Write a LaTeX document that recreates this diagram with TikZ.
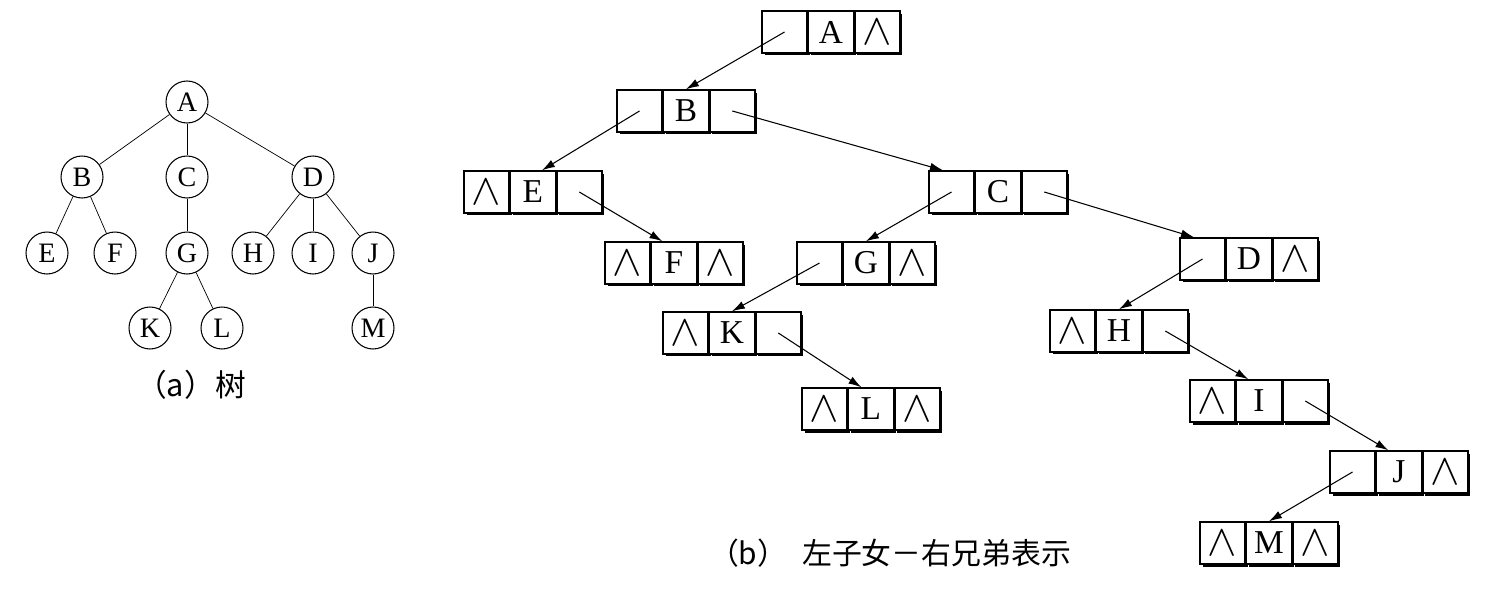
\documentclass[tikz,border=0pt]{standalone}
\usepackage{fontspec}
\setmainfont{Liberation Serif}
\newfontfamily\cjk{Noto Sans CJK SC}
\usetikzlibrary{arrows.meta,positioning,calc,shadows}
\newcommand{\nil}{\scalebox{1.45}{$\wedge$}}
\tikzset{
  cell/.style={rectangle,draw,fill=white,line width=0.8pt,minimum width=9mm,minimum height=8.4mm,inner sep=0pt,
    font=\fontsize{19}{19}\selectfont,
    drop shadow={shadow xshift=0.5mm,shadow yshift=-0.5mm,fill=black,opacity=1}},
  vertex/.style={circle,draw,line width=0.6pt,minimum size=8.4mm,inner sep=0pt,font=\fontsize{16}{16}\selectfont},
  ptr/.style={draw,->,>={Latex[length=2.6mm,width=1.6mm]},line width=0.6pt}
}

\begin{document}
\begin{tikzpicture}[
    x=0.02cm, y=-0.02cm,
    node distance=0pt
]
\useasboundingbox (0,0) rectangle (1500,588);

% =========================================================
% (a) tree
% =========================================================

\node[vertex] (tA) at (187,102) {A};

\node[vertex] (tB) at (82,177) {B};
\node[vertex] (tC) at (187,177) {C};
\node[vertex] (tD) at (313,177) {D};

\node[vertex] (tE) at (47,253) {E};
\node[vertex] (tF) at (115,253) {F};
\node[vertex] (tG) at (187,253) {G};
\node[vertex] (tH) at (253,253) {H};
\node[vertex] (tI) at (313,253) {I};
\node[vertex] (tJ) at (373,253) {J};

\node[vertex] (tK) at (150,328) {K};
\node[vertex] (tL) at (222,328) {L};
\node[vertex] (tM) at (373,328) {M};

\draw (tA) -- (tB);
\draw (tA) -- (tC);
\draw (tA) -- (tD);
\draw (tB) -- (tE);
\draw (tB) -- (tF);
\draw (tC) -- (tG);
\draw (tD) -- (tH);
\draw (tD) -- (tI);
\draw (tD) -- (tJ);
\draw (tG) -- (tK);
\draw (tG) -- (tL);
\draw (tJ) -- (tM);

\node[font=\cjk\fontsize{17.5}{17.5}\selectfont] (capa) at (191,385) {（a）树};


% =========================================================
% (b) left child - right sibling
% =========================================================

\node[cell] (Al) at (784.5,32) {};
\node[cell,right=of Al] (A) {A};
\node[cell,right=of A] (Ar) {\nil};

\node[cell] (Bl) at (639.5,111) {};
\node[cell,right=of Bl] (B) {B};
\node[cell,right=of B] (Br) {};

\node[cell] (El) at (486.5,192) {\nil};
\node[cell,right=of El] (E) {E};
\node[cell,right=of E] (Er) {};

\node[cell] (Cl) at (951.5,192) {};
\node[cell,right=of Cl] (C) {C};
\node[cell,right=of C] (Cr) {};

\node[cell] (Fl) at (627.5,263) {\nil};
\node[cell,right=of Fl] (F) {F};
\node[cell,right=of F] (Fr) {\nil};

\node[cell] (Gl) at (819.5,263) {};
\node[cell,right=of Gl] (G) {G};
\node[cell,right=of G] (Gr) {\nil};

\node[cell] (Dl) at (1202.5,259) {};
\node[cell,right=of Dl] (D) {D};
\node[cell,right=of D] (Dr) {\nil};

\node[cell] (Kl) at (685.5,333) {\nil};
\node[cell,right=of Kl] (K) {K};
\node[cell,right=of K] (Kr) {};

\node[cell] (Hl) at (1072.5,331) {\nil};
\node[cell,right=of Hl] (H) {H};
\node[cell,right=of H] (Hr) {};

\node[cell] (Ll) at (824.5,409) {\nil};
\node[cell,right=of Ll] (L) {L};
\node[cell,right=of L] (Lr) {\nil};

\node[cell] (Il) at (1212.5,401) {\nil};
\node[cell,right=of Il] (I) {I};
\node[cell,right=of I] (Ir) {};

\node[cell] (Jl) at (1352.5,472) {};
\node[cell,right=of Jl] (J) {J};
\node[cell,right=of J] (Jr) {\nil};

\node[cell] (Ml) at (1222.5,543) {\nil};
\node[cell,right=of Ml] (M) {M};
\node[cell,right=of M] (Mr) {\nil};

% pointers
\draw[ptr] (Al.center) -- (B.north);
\draw[ptr] (Bl.center) -- ([xshift=1.8mm]E.north);
\draw[ptr] (Br.center) -- ([xshift=-1.7mm]Cl.north);
\draw[ptr] (Er.center) -- ([xshift=-2.3mm]F.north);
\draw[ptr] (Cl.center) -- (G.north);
\draw[ptr] (Cr.center) -- ([xshift=-1.7mm]Dl.north);
\draw[ptr] (Gl.center) -- (K.north);
\draw[ptr] (Kr.center) -- ([xshift=-1.9mm]L.north);
\draw[ptr] (Dl.center) -- (H.north);
\draw[ptr] (Hr.center) -- ([xshift=-2.1mm]I.north);
\draw[ptr] (Ir.center) -- ([xshift=-2.1mm]J.north);
\draw[ptr] (Jl.center) -- (M.north);

\node[font=\cjk\fontsize{17}{17}\selectfont] (capb) at (890,553) {（b）\enspace 左子女－右兄弟表示};

\end{tikzpicture}
\end{document}
